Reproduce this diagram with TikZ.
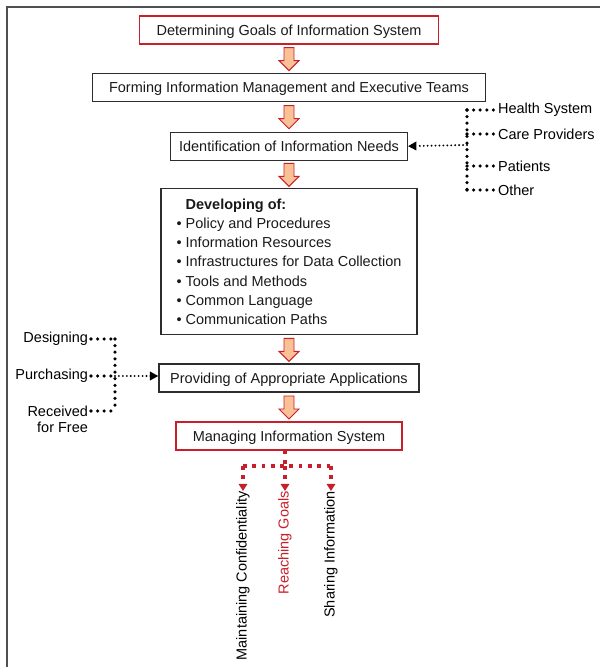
\documentclass[tikz,border=0pt]{standalone}
\usepackage{fontspec}
\setmainfont{Liberation Sans}
\usepackage{xcolor}
\usetikzlibrary{positioning,arrows.meta,calc}

\definecolor{boxred}{RGB}{200,32,42}
\definecolor{boxgray}{RGB}{45,45,45}
\definecolor{arroworange}{RGB}{250,192,150}
\definecolor{framegray}{RGB}{80,80,80}

\newcommand{\mainsz}{\fontsize{10.3}{12.4}\selectfont}
\newcommand{\listsz}{\fontsize{10.3}{13.7}\selectfont}

% block arrow half way between two boxes
\newcommand{\flowarrow}[2]{%
  \draw[fatarrow, shift={($(#1.south)!0.5!(#2.north)$)}]
    (-5,11) -- (5,11) -- (5,-2) -- (10,-2) -- (0,-12) -- (-10,-2) -- (-5,-2) -- cycle;}

\tikzset{
  stepbox/.style={draw=boxgray, line width=0.9pt, minimum height=0.7cm,
    inner xsep=12pt, font=\mainsz, text=black!90, text height=7.6pt, text depth=0.4pt},
  redbox/.style={stepbox, draw=boxred},
  fatarrow/.style={draw=boxred, fill=arroworange, line width=0.7pt},
  dotline/.style={line width=2.5pt, dash pattern=on 0pt off 4.7pt, line cap=round},
  dotarrow/.style={line width=1.5pt, dash pattern=on 0pt off 2.8pt, line cap=round,
    -{Triangle[length=6pt,width=6pt]}},
  reddots/.style={draw=boxred, line width=2.7pt, dash pattern=on 2.7pt off 3.9pt,
    -{Triangle[length=5pt,width=6pt]}},
  sidelabel/.style={font=\mainsz, inner sep=2pt},
  outlabel/.style={font=\mainsz, rotate=90, anchor=east, inner sep=0pt}
}

\begin{document}
\begin{tikzpicture}[x=0.025cm, y=0.025cm, node distance=0.7cm]

\useasboundingbox (0,0) rectangle (600,-667);
\draw[framegray, line width=1.3pt] (7,-667) -- (7,-7) -- (600,-7);

% main flow
\node[redbox] (goals) at (289,-30) {Determining Goals of Information System};
\node[stepbox, below=of goals] (teams) {Forming Information Management and Executive Teams};
\node[stepbox, below=0.74cm of teams, inner xsep=6pt] (needs) {Identification of Information Needs};
\node[stepbox, below=0.68cm of needs, minimum height=3.65cm, inner xsep=11pt,
  align=left, font=\listsz, text height=, text depth=] (dev) {%
\hphantom{\textbullet\ }\textbf{Developing of:}\\
\textbullet\ Policy and Procedures\\
\textbullet\ Information Resources\\
\textbullet\ Infrastructures for Data Collection\\
\textbullet\ Tools and Methods\\
\textbullet\ Common Language\\
\textbullet\ Communication Paths};
\node[stepbox, below=of dev, inner xsep=8pt] (apps) {Providing of Appropriate Applications};
\node[redbox, below=0.72cm of apps] (mgmt) {Managing Information System};

\flowarrow{goals}{teams}
\flowarrow{teams}{needs}
\flowarrow{needs}{dev}
\flowarrow{dev}{apps}
\flowarrow{apps}{mgmt}

% sources of information needs
\coordinate (rtop) at (467,-110);
\coordinate (rhub) at (467,-145);
\coordinate (rbot) at (467,-190);
\node[sidelabel, anchor=west] (health) at (495,-110) {Health System};
\node[sidelabel, anchor=west] (care) at (495,-134) {Care Providers};
\node[sidelabel, anchor=west] (patients) at (495,-166) {Patients};
\node[sidelabel, anchor=west] (other) at (495,-190) {Other};

\draw[dotline] (rtop) -- (rbot);
\draw[dotline] (rtop) -- (health.west);
\draw[dotline] (rtop |- care.west) -- (care.west);
\draw[dotline] (rtop |- patients.west) -- (patients.west);
\draw[dotline] (rbot) -- (other.west);
\draw[dotarrow] (rhub) -- (needs.east);

% ways of getting applications
\coordinate (ltop) at (115,-339);
\coordinate (lhub) at (115,-376);
\coordinate (lbot) at (115,-411);
\node[sidelabel, anchor=east] (design) at (91,-339) {Designing};
\node[sidelabel, anchor=east] (buy) at (91,-376) {Purchasing};
\node[sidelabel, anchor=east, align=right, font=\fontsize{10.3}{11.4}\selectfont]
  (free) at (91,-419) {Received\\for Free};

\draw[dotline] (ltop) -- (lbot);
\draw[dotline] (design.east) -- (ltop);
\draw[dotline] (buy.east) -- (lhub);
\draw[dotline] (lbot -| free.east) -- (lbot);
\draw[dotarrow] (lhub) -- (lhub -| apps.west);

% outcomes
\coordinate (mhub) at (285,-466);
\coordinate (mleft) at (243,-466);
\coordinate (mright) at (331,-466);
\node[outlabel] (conf) at (243,-491) {Maintaining Confidentiality};
\node[outlabel, text=boxred] (reach) at (285,-491) {Reaching Goals};
\node[outlabel] (share) at (331,-491) {Sharing Information};

\draw[reddots, -] (mgmt.south -| mhub) -- (mhub);
\draw[reddots, -] (mleft) -- (mright);
\draw[reddots] (mleft) -- (conf.east);
\draw[reddots] (mhub) -- (reach.east);
\draw[reddots] (mright) -- (share.east);

\end{tikzpicture}
\end{document}
